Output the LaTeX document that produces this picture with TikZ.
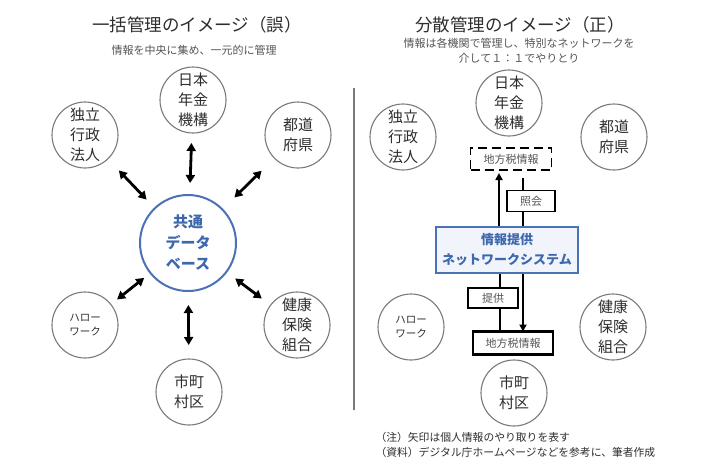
\documentclass[tikz,border=0pt]{standalone}
\usepackage{fontspec}
\setmainfont{Noto Sans CJK JP}
\usetikzlibrary{arrows.meta,calc,backgrounds}
\definecolor{bl}{HTML}{4A72B5}
\definecolor{bltxt}{HTML}{3D68AE}
\definecolor{blfill}{HTML}{F1F5FB}
\definecolor{cgray}{HTML}{7A7A7A}
\definecolor{tx}{HTML}{2E2E2E}
\definecolor{subtx}{HTML}{555555}
\tikzset{
  org/.style={circle, draw=cgray, line width=1.1pt, minimum size=66pt, inner sep=0pt, outer sep=0pt,
    align=center, text=tx, font=\fontsize{15}{20}\selectfont},
  orgsmall/.style={org, font=\fontsize{10.5}{14}\selectfont},
  dbnode/.style={circle, draw=bl, line width=2pt, minimum size=96pt, inner sep=0pt, outer sep=0pt,
    align=center, text=bltxt, font=\bfseries\fontsize{15}{21}\selectfont},
  biarr/.style={{Triangle[length=8pt,width=9pt]}-{Triangle[length=8pt,width=9pt]}, line width=2.8pt, draw=black},
  onearr/.style={-{Triangle[length=7pt,width=7pt]}, line width=1.9pt},
  plainln/.style={line width=1.9pt},
  lbox/.style={draw=black, fill=white, line width=1.9pt, inner sep=0pt, outer sep=0pt, text=subtx,
    font=\fontsize{11}{13}\selectfont},
  netbox/.style={draw=bl, fill=blfill, line width=1.6pt, inner sep=0pt, outer sep=0pt,
    minimum width=142pt, minimum height=46pt, align=center, text=bltxt,
    font=\bfseries\fontsize{13}{20}\selectfont},
  titletext/.style={text=tx, font=\fontsize{17.5}{22}\selectfont},
  subtext/.style={text=subtx, align=center, font=\fontsize{11}{15}\selectfont},
  foottext/.style={text=tx, anchor=west, font=\fontsize{10.8}{13}\selectfont},
}
\begin{document}
\begin{tikzpicture}[x=1pt,y=-1pt]
\useasboundingbox (0,0) rectangle (702,467);
\begin{scope}[on background layer]
\fill[white] (0,0) rectangle (702,467);
\end{scope}

% ---------- left ----------
\node[titletext] (tL) at (197,25) {一括管理のイメージ（誤）};
\node[subtext] (sL) at (194,50) {情報を中央に集め、一元的に管理};

\node[org] (jpL) at (193,100) {日本\\年金\\機構};
\node[org] (dkL) at (85,135) {独立\\行政\\法人};
\node[org] (tdL) at (298,135) {都道\\府県};
\node[dbnode] (db) at (188,243) {共通\\データ\\ベース};
\node[orgsmall] (hwL) at (85,325) {ハロー\\ワーク};
\node[org] (kpL) at (297,325) {健康\\保険\\組合};
\node[org] (scL) at (189,392) {市町\\村区};

\draw[biarr, shorten <=10pt, shorten >=12pt] (jpL) -- (db);
\draw[biarr, shorten <=16pt, shorten >=12pt] (dkL) -- (db);
\draw[biarr, shorten <=18pt, shorten >=17pt] (tdL) -- (db);
\draw[biarr, shorten <=8pt, shorten >=8pt] (hwL) -- (db);
\draw[biarr, shorten <=11pt, shorten >=11pt] (kpL) -- (db);
\draw[biarr, shorten <=14pt, shorten >=14pt] (scL) -- (db);

% divider
\coordinate (dvT) at (354,88);
\coordinate (dvB) at (354,410);
\draw[draw=cgray, line width=1.4pt] (dvT) -- (dvB);

% ---------- right ----------
\node[titletext] (tR) at (520,25) {分散管理のイメージ（正）};
\node[subtext] (sR) at (519,51) {情報は各機関で管理し、特別なネットワークを\\介して１：１でやりとり};

\node[org] (jpR) at (509,103) {日本\\年金\\機構};
\node[org] (dkR) at (403,137) {独立\\行政\\法人};
\node[org] (tdR) at (614,137) {都道\\府県};
\node[orgsmall] (hwR) at (411,327) {ハロー\\ワーク};
\node[org] (kpR) at (613,327) {健康\\保険\\組合};
\node[org] (scR) at (514,393) {市町\\村区};

\node[lbox, dashed, dash pattern=on 9pt off 5pt, minimum width=81pt, minimum height=22pt] (tax1) at (511,159) {地方税情報};
\node[lbox, minimum width=48pt, minimum height=21pt] (shokai) at (531,201) {照会};
\node[netbox] (net) at (507,250) {情報提供\\ネットワークシステム};
\node[lbox, minimum width=50pt, minimum height=20pt] (teikyo) at (493,298) {提供};
\node[lbox, line width=2.3pt, minimum width=80pt, minimum height=23pt] (tax2) at (513,343) {地方税情報};

\coordinate (xa) at (499,0);
\coordinate (xb) at (523,0);
\coordinate (xc) at (500,0);
\coordinate (topfree) at (523,178);

\begin{scope}[on background layer]
\draw[onearr, shorten >=3pt] (net.north -| xa) -- (tax1.south -| xa);
\draw[plainln] (topfree) -- (net.north -| xb);
\draw[plainln] (net.south -| xc) -- (tax2.north -| xc);
\draw[onearr] (net.south -| xb) -- (tax2.north -| xb);
\end{scope}

\node[foottext] (f1) at (372,437) {（注）矢印は個人情報のやり取りを表す};
\node[foottext] (f2) at (372,452) {（資料）デジタル庁ホームページなどを参考に、筆者作成};
\end{tikzpicture}
\end{document}
